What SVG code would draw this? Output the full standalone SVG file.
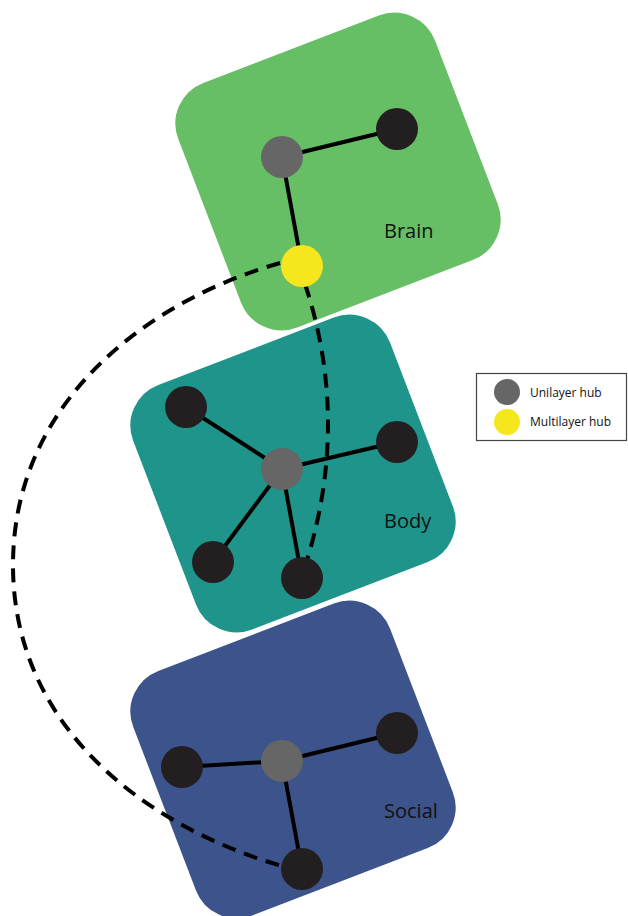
<svg xmlns="http://www.w3.org/2000/svg" width="628" height="916" viewBox="0 0 628 916">
<style>
.layer{stroke:#ffffff;stroke-width:3}
.edge{stroke:#000;stroke-width:4;fill:none}
.inter{stroke:#000;stroke-width:4;fill:none;stroke-dasharray:14 9}
.n{fill:#231f20}
.hub{fill:#666666}
.mhub{fill:#f6e61d}
.lbl{font-family:"Open Sans","Liberation Sans",sans-serif;font-size:20px;fill:#111}
.leg{font-family:"Open Sans","Liberation Sans",sans-serif;font-size:12px;fill:#111}
</style>
<rect width="628" height="916" fill="#ffffff"/>
<g id="layer-brain">
<rect class="layer" x="199" y="39" width="278" height="265" rx="45" fill="#67bf65" transform="rotate(-21 338 171.5)"/>
<text class="lbl" x="384" y="238">Brain</text>
</g>
<g id="layer-body">
<rect class="layer" x="154" y="341" width="278" height="265" rx="45" fill="#1f948b" transform="rotate(-21 293 473.5)"/>
<text class="lbl" x="384" y="528">Body</text>
</g>
<g id="layer-social">
<rect class="layer" x="154" y="627" width="278" height="265" rx="45" fill="#3d538b" transform="rotate(-21 293 759.5)"/>
<text class="lbl" x="384" y="818">Social</text>
</g>
<g id="connectors">
<line class="edge" x1="282" y1="157" x2="397" y2="129"/>
<line class="edge" x1="282" y1="157" x2="302" y2="266"/>
<line class="edge" x1="282" y1="469" x2="186" y2="407"/>
<line class="edge" x1="282" y1="469" x2="397" y2="442"/>
<line class="edge" x1="282" y1="469" x2="213" y2="562"/>
<line class="edge" x1="282" y1="469" x2="302" y2="578"/>
<line class="edge" x1="282" y1="761" x2="182" y2="767"/>
<line class="edge" x1="282" y1="761" x2="397" y2="733"/>
<line class="edge" x1="282" y1="761" x2="302" y2="869"/>
<path class="inter" d="M305 284 Q350 420 307 560"/>
<path class="inter" d="M280 263 C150 300 13 400 13 565 C13 730 150 828 282 866"/>
</g>
<g id="node-brain-hub"><circle class="hub" cx="282" cy="157" r="21"/></g>
<g id="node-brain-1"><circle class="n" cx="397" cy="129" r="21"/></g>
<g id="node-multilayer-hub"><circle class="mhub" cx="302" cy="266" r="21"/></g>
<g id="node-body-hub"><circle class="hub" cx="282" cy="469" r="21"/></g>
<g id="node-body-1"><circle class="n" cx="186" cy="407" r="21"/></g>
<g id="node-body-2"><circle class="n" cx="397" cy="442" r="21"/></g>
<g id="node-body-3"><circle class="n" cx="213" cy="562" r="21"/></g>
<g id="node-body-4"><circle class="n" cx="302" cy="578" r="21"/></g>
<g id="node-social-hub"><circle class="hub" cx="282" cy="761" r="21"/></g>
<g id="node-social-1"><circle class="n" cx="182" cy="767" r="21"/></g>
<g id="node-social-2"><circle class="n" cx="397" cy="733" r="21"/></g>
<g id="node-social-3"><circle class="n" cx="302" cy="869" r="21"/></g>
<g id="legend">
<rect x="476.5" y="373.5" width="150" height="67" fill="#fff" stroke="#444" stroke-width="1.2"/>
<circle class="hub" cx="507" cy="392" r="13"/>
<circle class="mhub" cx="507" cy="422" r="13"/>
<text class="leg" x="530" y="396.5">Unilayer hub</text>
<text class="leg" x="530" y="426">Multilayer hub</text>
</g>
</svg>
